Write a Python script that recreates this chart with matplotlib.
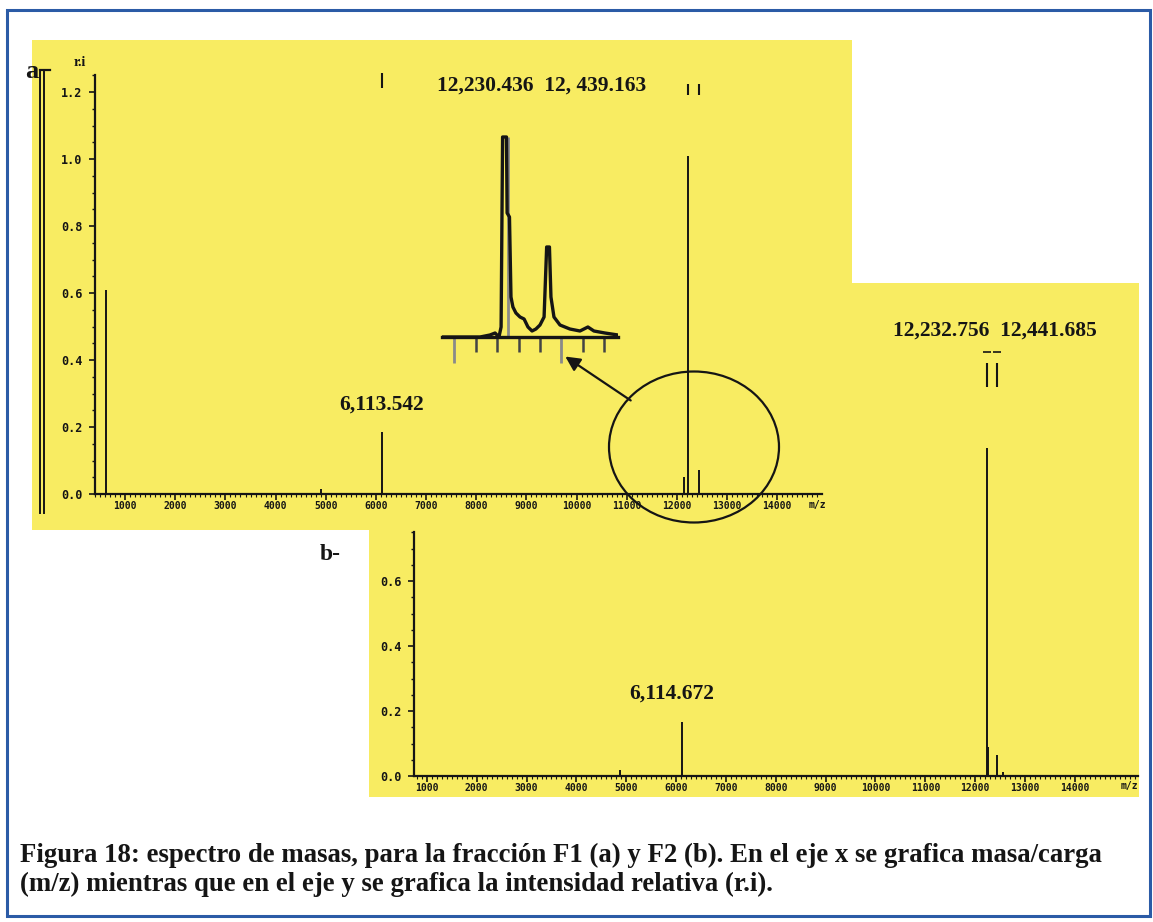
import matplotlib.pyplot as plt
from matplotlib.patches import Rectangle, Ellipse, FancyArrowPatch
from matplotlib.ticker import MultipleLocator
import numpy as np

# peak lists (m/z, relative intensity)
mz_a = [620, 4900, 6113.542, 12150, 12230.436, 12439.163]
ri_a = [0.61, 0.015, 0.185, 0.05, 1.01, 0.072]

mz_b = [4875, 6114.672, 12232.756, 12262, 12441.685, 12560]
ri_b = [0.02, 0.166, 1.01, 0.09, 0.065, 0.012]

# zoomed trace around the 12 kDa doublet (F1)
zoom_mz = [11944, 12121, 12167, 12191, 12209, 12219, 12226, 12244, 12247, 12258,
           12265, 12274, 12288, 12307, 12326, 12344, 12363, 12381, 12400, 12419,
           12431, 12444, 12451, 12465, 12493, 12539, 12586, 12623, 12651, 12702, 12763]
zoom_ri = [0.0, 0.0, 0.01, 0.02, 0.0, 0.05, 1.0, 1.0, 0.62, 0.6,
           0.2, 0.15, 0.12, 0.1, 0.09, 0.05, 0.03, 0.04, 0.06, 0.1,
           0.45, 0.45, 0.2, 0.1, 0.06, 0.04, 0.03, 0.05, 0.03, 0.02, 0.01]
zoom_ghost_mz = [12251]
zoom_ghost_ri = [1.0]

xticks = [1000, 2000, 3000, 4000, 5000, 6000, 7000, 8000, 9000, 10000, 11000, 12000, 13000, 14000]
yticks_a = [0.0, 0.2, 0.4, 0.6, 0.8, 1.0, 1.2]
yticks_b = [0.0, 0.2, 0.4, 0.6]

labels_a = ["6,113.542", "12,230.436  12, 439.163"]
labels_b = ["6,114.672", "12,232.756  12,441.685"]

caption = ["Figura 18: espectro de masas, para la fracción F1 (a) y F2 (b). En el eje x se grafica masa/carga",
           "(m/z) mientras que en el eje y se grafica la intensidad relativa (r.i)."]

YELLOW = '#F8EC62'
INK = '#151515'
W, H = 1153, 922


def rect(l, t, r, b):
    return [l / W, 1 - b / H, (r - l) / W, (b - t) / H]


def pt(x, y):
    return (x / W, 1 - y / H)


fig = plt.figure(figsize=(W / 100, H / 100), dpi=100)
fig.patch.set_facecolor('white')

# frame
fig.add_artist(Rectangle(pt(7, 916), 1143 / W, 906 / H, transform=fig.transFigure,
                         fill=False, edgecolor='#2B5BA6', lw=2.2, zorder=5))

# yellow backgrounds
for (l, t, r, b), z in [((369, 283, 1139, 797), 0.1), ((32, 40, 852, 530), 0.3)]:
    x0, y0, w, h = rect(l, t, r, b)
    fig.add_artist(Rectangle((x0, y0), w, h, transform=fig.transFigure,
                             facecolor=YELLOW, edgecolor='none', zorder=z))

mono = dict(fontfamily='DejaVu Sans Mono', fontweight='bold', color=INK)
serif = dict(fontfamily='Liberation Serif', fontweight='bold', color=INK)


def style_axes(ax, yticks, ytop):
    ax.set_facecolor('none')
    for s in ['top', 'right']:
        ax.spines[s].set_visible(False)
    for s in ['left', 'bottom']:
        ax.spines[s].set_linewidth(1.6)
        ax.spines[s].set_color(INK)
    ax.spines['left'].set_bounds(0, ytop)
    ax.set_xticks(xticks, [str(v) for v in xticks], fontsize=7, **mono)
    ax.set_yticks(yticks, ['%.1f' % v for v in yticks], fontsize=8.5, **mono)
    ax.xaxis.set_minor_locator(MultipleLocator(100))
    ax.yaxis.set_minor_locator(MultipleLocator(0.05))
    ax.tick_params(axis='x', which='major', length=4, width=1.2, pad=1, color=INK)
    ax.tick_params(axis='x', which='minor', length=2, width=0.8, color=INK)
    ax.tick_params(axis='y', which='major', length=4, width=1.2, pad=5, color=INK)
    ax.tick_params(axis='y', which='minor', length=2.5, width=1.0, color=INK)


# panel a
ax_a = fig.add_axes(rect(95, 73, 822, 494), zorder=0.4)
ax_a.set_xlim(399, 14895)
ax_a.set_ylim(0, 1.257)
style_axes(ax_a, yticks_a, 1.25)
ax_a.vlines(mz_a, 0, ri_a, color=INK, lw=1.4)
ax_a.text(mz_a[2], 0.266, labels_a[0], ha='center', va='center', fontsize=15.5, **serif)
ax_a.text(9312, 1.218, labels_a[1], ha='center', va='center', fontsize=15.5, **serif)
ax_a.vlines([mz_a[2]], 1.212, 1.257, color=INK, lw=1.5, clip_on=False)
ax_a.vlines([mz_a[4], mz_a[5]], 1.19, 1.225, color=INK, lw=1.5, clip_on=False)
ax_a.annotate('m/z', (14800, 0), xycoords=('data', 'axes fraction'), xytext=(0, -8),
              textcoords='offset points', ha='center', va='center', fontsize=7, **mono)

# panel b
ax_b = fig.add_axes(rect(414, 440, 1138, 776), zorder=0.2)
ax_b.set_xlim(742, 15266)
ax_b.set_ylim(0, 1.034)
style_axes(ax_b, yticks_b, 0.75)
ax_b.vlines(mz_b, 0, ri_b, color=INK, lw=1.4)
ax_b.text(5918, 0.255, labels_b[0], ha='center', va='center', fontsize=15.5, **serif)
ax_b.text(12397, 1.372, labels_b[1], ha='center', va='center', fontsize=15.5, **serif)
ax_b.vlines([mz_b[2], mz_b[4]], 1.197, 1.271, color=INK, lw=1.5, clip_on=False)
ax_b.hlines([1.305, 1.305], [mz_b[2] - 80, mz_b[4] - 80], [mz_b[2] + 80, mz_b[4] + 80],
            color=INK, lw=1.2, clip_on=False)
ax_b.annotate('m/z', (15100, 0), xycoords=('data', 'axes fraction'), xytext=(0, -7),
              textcoords='offset points', ha='center', va='center', fontsize=7, **mono)

# zoomed doublet
ax_z = fig.add_axes(rect(442, 130, 618, 337), zorder=0.5)
ax_z.set_facecolor('none')
ax_z.set_xlim(11944, 12763)
ax_z.set_ylim(0, 1.035)
for s in ['top', 'right', 'left']:
    ax_z.spines[s].set_visible(False)
ax_z.spines['bottom'].set_linewidth(2.4)
ax_z.spines['bottom'].set_color(INK)
ax_z.set_yticks([])
ax_z.set_xticks([12000, 12500], ['', ''])
ax_z.xaxis.set_minor_locator(MultipleLocator(100))
ax_z.tick_params(axis='x', which='major', length=19, width=2, color='#8a8a8a')
ax_z.tick_params(axis='x', which='minor', length=11, width=1.8, color='#444444')
ax_z.vlines(zoom_ghost_mz, 0, zoom_ghost_ri, color='#8a8a8a', lw=2)
ax_z.plot(zoom_mz, zoom_ri, color=INK, lw=2.4, solid_joinstyle='round')

# circle around the doublet and arrow to the zoom
fig.add_artist(Ellipse(pt(694, 447), 170 / W, 151 / H, transform=fig.transFigure,
                       fill=False, edgecolor=INK, lw=1.6, zorder=0.6))
fig.add_artist(FancyArrowPatch(pt(633, 402), pt(563, 355), transform=fig.transFigure,
                               arrowstyle='-|>', mutation_scale=22, color=INK, lw=1.6,
                               zorder=0.6))

# bracket at the left of panel a
fig.add_artist(plt.Line2D([40 / W, 40 / W], [1 - 70 / H, 1 - 513 / H], color=INK, lw=1.4,
                          transform=fig.transFigure, zorder=0.5))
fig.add_artist(plt.Line2D([44 / W, 44 / W], [1 - 72 / H, 1 - 513 / H], color=INK, lw=1.4,
                          transform=fig.transFigure, zorder=0.5))
fig.add_artist(plt.Line2D([40 / W, 50 / W], [1 - 70 / H, 1 - 70 / H], color=INK, lw=1.6,
                          transform=fig.transFigure, zorder=0.5))

fig.text(*pt(32, 72), 'a', ha='center', va='center', fontsize=19, zorder=1, **serif)
fig.text(*pt(80, 62), 'r.i', ha='center', va='center', fontsize=10, zorder=1, **serif)
fig.text(*pt(330, 555), 'b-', ha='center', va='center', fontsize=17, zorder=1, **serif)

fig.text(*pt(20, 855), caption[0], ha='left', va='center', fontsize=19.3, **serif)
fig.text(*pt(20, 884), caption[1], ha='left', va='center', fontsize=19.3, **serif)

fig.savefig('out.png', dpi=100)
